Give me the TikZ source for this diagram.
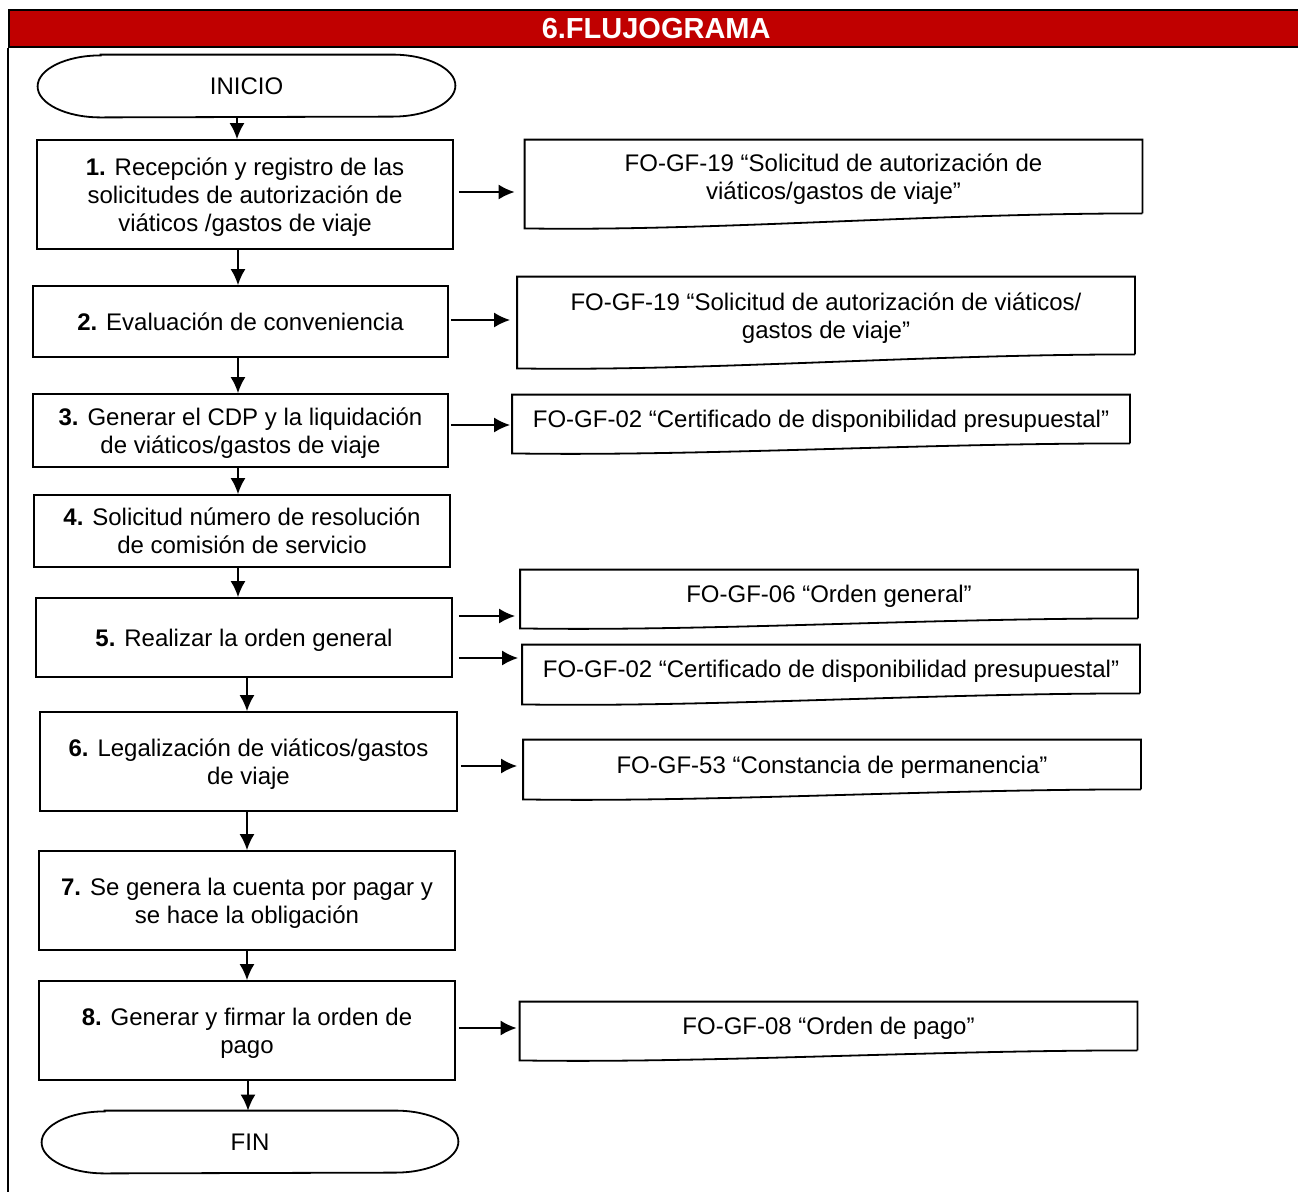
\documentclass[tikz,border=0pt]{standalone}
\usepackage{fontspec}
\setmainfont{Liberation Sans}
\usetikzlibrary{arrows.meta}
\definecolor{rojo}{HTML}{C00000}
\newcommand{\docforma}[2]{\draw[borde] (#1.south east) -- (#1.north east) -- (#1.north west) -- ([yshift=-#2]#1.south west) .. controls +(185,3) and +(-215,0) .. (#1.south east);}
\newcommand{\terminal}[1]{\draw[borde] ([xshift=31.5pt]#1.north west) -- ([xshift=-31.5pt]#1.north east) arc[start angle=90, end angle=-90, x radius=31.5pt, y radius=15.5pt] -- ([xshift=31.5pt]#1.south west) arc[start angle=270, end angle=90, x radius=31.5pt, y radius=15.5pt] -- cycle;}

\begin{document}
\begin{tikzpicture}[x=0.5pt, y=-0.5pt, >={Latex[length=8pt,width=7.5pt]},
  font=\fontsize{12pt}{14pt}\selectfont,
  borde/.style={line width=0.9pt, line join=miter},
  caja/.style={draw, borde, minimum width=208pt, align=center, inner sep=2pt, text depth=0pt},
  termino/.style={minimum width=208.5pt, minimum height=31pt, inner sep=0pt},
  doc/.style={minimum width=308.5pt, align=center, inner sep=0pt, text depth=0pt},
  flecha/.style={->, line width=0.9pt}]
\useasboundingbox (0,0) rectangle (1298,1191);
\node[draw, line width=1.2pt, fill=rojo, text=white, font=\bfseries\fontsize{14.5pt}{17pt}\selectfont, minimum width=647pt, minimum height=18.5pt, inner sep=0pt, anchor=west] (titulo) at (8,28.5) {6.FLUJOGRAMA};
\coordinate (fondo) at (8,1195);
\draw[line width=1pt] (titulo.south west) -- (fondo);
% proceso
\node[termino] (ini) at (246.5,86) {INICIO};
\node[caja, minimum height=54.5pt] (b1) at (245,194.5) {\textbf{1.} Recepción y registro de las\\solicitudes de autorización de\\viáticos /gastos de viaje};
\node[caja, minimum width=207.5pt, minimum height=35.5pt] (b2) at (240.5,321.5) {\textbf{2.} Evaluación de conveniencia};
\node[caja, minimum width=207.5pt, minimum height=36.5pt] (b3) at (240.5,430.5) {\textbf{3.} Generar el CDP y la liquidación\\de viáticos/gastos de viaje};
\node[caja, minimum height=36pt] (b4) at (242,531) {\textbf{4.} Solicitud número de resolución\\de comisión de servicio};
\node[caja, minimum height=39.5pt] (b5) at (244,637.5) {\textbf{5.} Realizar la orden general};
\node[caja, minimum width=208.5pt, minimum height=49.5pt] (b6) at (248.5,761.5) {\textbf{6.} Legalización de viáticos/gastos\\de viaje};
\node[caja, minimum height=49.5pt] (b7) at (247,900.5) {\textbf{7.} Se genera la cuenta por pagar y\\se hace la obligación};
\node[caja, minimum height=49.5pt] (b8) at (247,1030.5) {\textbf{8.} Generar y firmar la orden de\\pago};
\node[termino, minimum width=208pt] (fin) at (250,1142) {FIN};
\terminal{ini}
\terminal{fin}
% documentos
\node[doc, minimum height=36.5pt, text depth=-1.5pt] (d1) at (833.5,176.5) {FO-GF-19 “Solicitud de autorización de\\viáticos/gastos de viaje”};
\node[doc, minimum height=38.5pt] (d2) at (826,315.5) {FO-GF-19 “Solicitud de autorización de viáticos/\\gastos de viaje”};
\node[doc, minimum height=24pt] (d3) at (821,419) {FO-GF-02 “Certificado de disponibilidad presupuestal”};
\node[doc, minimum height=24pt] (d5a) at (829,594) {FO-GF-06 “Orden general”};
\node[doc, minimum height=24pt] (d5b) at (831,669) {FO-GF-02 “Certificado de disponibilidad presupuestal”};
\node[doc, minimum height=24.5pt] (d6) at (832,764.5) {FO-GF-53 “Constancia de permanencia”};
\node[doc, minimum height=24pt] (d8) at (828.5,1026) {FO-GF-08 “Orden de pago”};
\foreach \d/\c in {d1/7.5pt, d2/7pt, d3/5pt, d5a/5pt, d5b/5.5pt, d6/5pt, d8/5pt}
  \docforma{\d}{\c};
% flechas
\foreach \a/\b/\dx in {ini/b1/-4.75pt, b1/b2/-3.5pt, b2/b3/-1.25pt, b3/b4/-1.25pt, b4/b5/-2pt, b5/b6/1.5pt, b6/b7/-0.75pt, b7/b8/0pt, b8/fin/0.5pt}
  \draw[flecha] ([xshift=\dx]\a.south) coordinate (s) -- (s |- \b.north);
\foreach \a/\b/\dy/\ga/\gb in {b1/d1/1.25pt/2.5pt/5pt, b2/d2/0.75pt/1pt/3.5pt, b3/d3/2.75pt/1pt/1pt, b5/d5a/10.75pt/3pt/2.5pt, b5/d5b/-10.25pt/3pt/2pt, b6/d6/-2.25pt/1.5pt/3pt, b8/d8/1.25pt/1.5pt/1.5pt}
  \draw[flecha, shorten <=\ga, shorten >=\gb] ([yshift=\dy]\a.east) coordinate (s) -- (s -| \b.west);
\end{tikzpicture}
\end{document}
